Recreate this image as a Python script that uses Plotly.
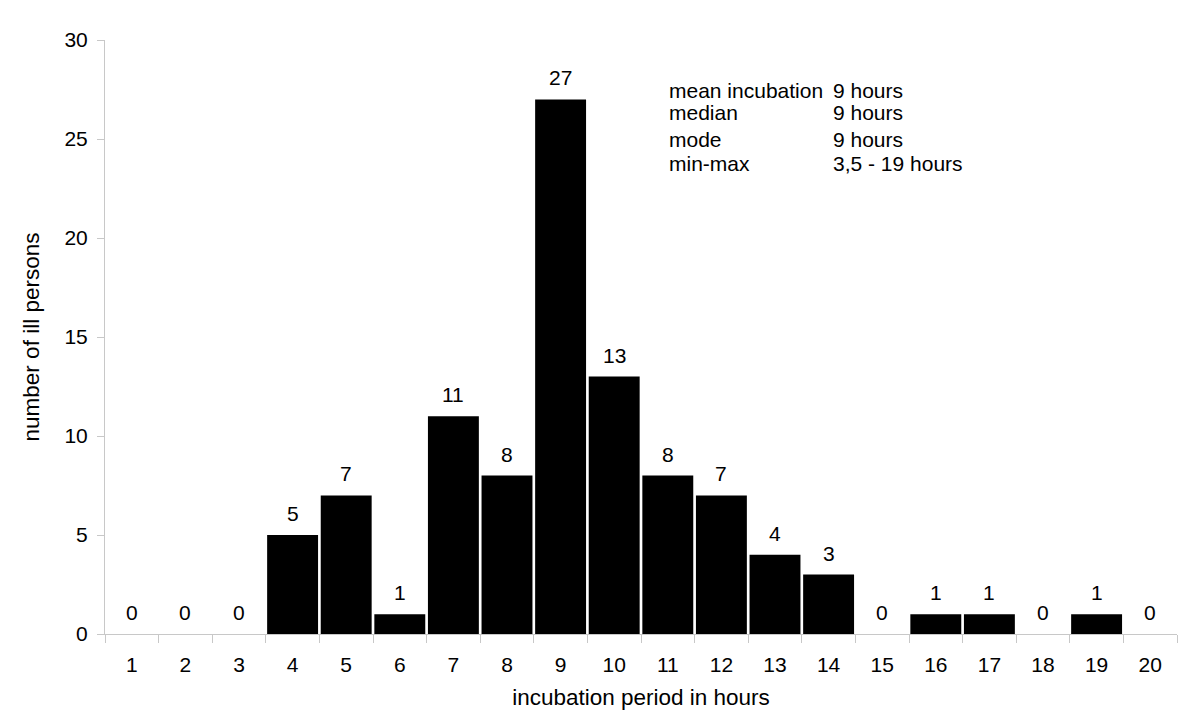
import plotly.graph_objects as go

# incubation period (hours) and number of ill persons
HOURS = [str(h) for h in range(1, 21)]
CASES = [0, 0, 0, 5, 7, 1, 11, 8, 27, 13, 8, 7, 4, 3, 0, 1, 1, 0, 1, 0]

STAT_NAMES = ["mean incubation", "median", "mode", "min-max"]
STAT_VALUES = ["9 hours", "9 hours", "9 hours", "3,5 - 19 hours"]
STAT_Y = [27.47, 26.36, 24.95, 23.74]

FONT = "Liberation Sans, Arial, sans-serif"
AXIS_GREY = "#c8c8c8"
TXT = 21
TITLE_FONT = {"family": FONT, "size": 22.5, "color": "black"}

fig = go.Figure(
    go.Bar(
        x=HOURS,
        y=CASES,
        marker={"color": "black", "line": {"width": 0}},
        showlegend=False,
    )
)

# value labels above each bar (category axis -> position by index)
for i, c in enumerate(CASES):
    fig.add_annotation(
        x=i, y=c, text=str(c), showarrow=False,
        yanchor="bottom", yshift=8,
        font={"size": TXT, "color": "black", "family": FONT},
    )

# summary statistics block
for name, val, y in zip(STAT_NAMES, STAT_VALUES, STAT_Y):
    fig.add_annotation(
        x=0.524, y=y, xref="paper", yref="y", text=name, showarrow=False,
        xanchor="left", yanchor="middle",
        font={"size": TXT, "color": "black", "family": FONT},
    )
    fig.add_annotation(
        x=0.677, y=y, xref="paper", yref="y", text=val, showarrow=False,
        xanchor="left", yanchor="middle",
        font={"size": TXT, "color": "black", "family": FONT},
    )

fig.update_layout(
    width=1200,
    height=727,
    margin={"l": 97, "r": 31, "t": 32, "b": 101},
    plot_bgcolor="white",
    paper_bgcolor="white",
    bargap=0.05,
    font={"family": FONT, "size": TXT, "color": "black"},
    xaxis={
        "type": "category",
        "title": {"text": "incubation period in hours", "standoff": 14,
                  "font": TITLE_FONT},
        "automargin": False,
        "showgrid": False,
        "showline": True,
        "linecolor": AXIS_GREY,
        "linewidth": 1,
        "ticks": "outside",
        "tickson": "boundaries",
        "ticklen": 8,
        "tickcolor": AXIS_GREY,
        "ticklabelstandoff": 12,
        "tickfont": {"size": TXT},
    },
    yaxis={
        "title": {"text": "number of ill persons", "standoff": 18,
                  "font": TITLE_FONT},
        "automargin": False,
        "range": [0, 30],
        "dtick": 5,
        "showgrid": False,
        "zeroline": False,
        "showline": True,
        "linecolor": AXIS_GREY,
        "linewidth": 1,
        "ticks": "outside",
        "ticklen": 7,
        "tickcolor": AXIS_GREY,
        "ticklabelstandoff": 5,
        "tickfont": {"size": TXT},
    },
)

fig.write_html("out.html")
